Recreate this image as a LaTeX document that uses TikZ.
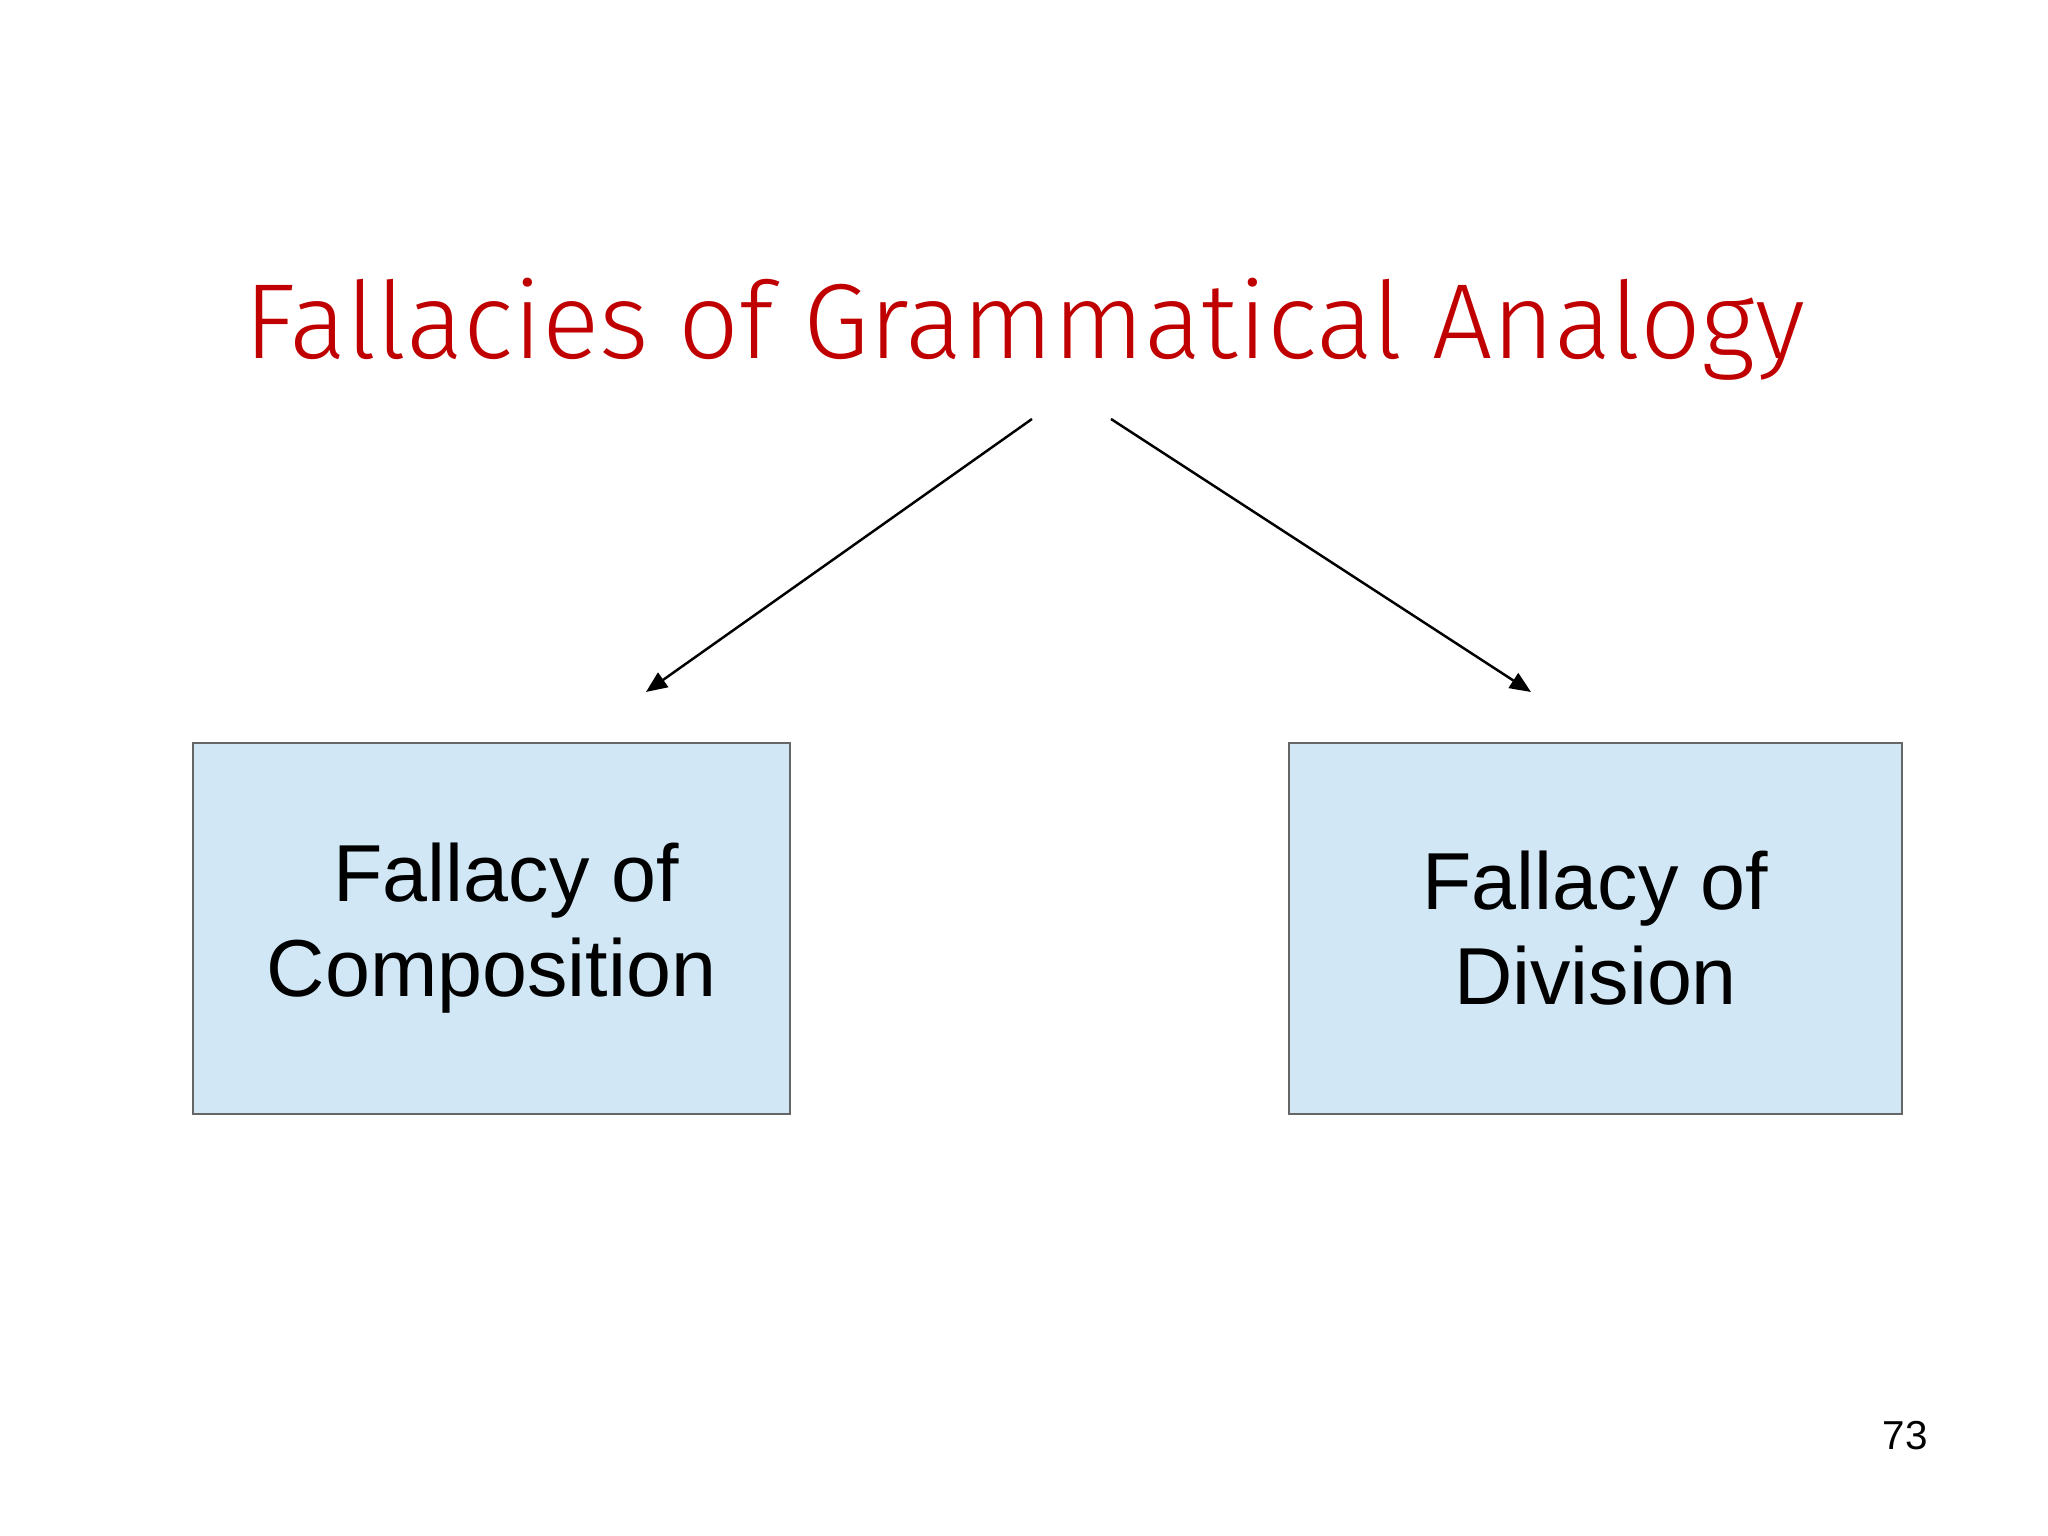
\documentclass[tikz,border=0pt]{standalone}
\usepackage{fontspec}
\usepackage{graphicx}
\setmainfont{Liberation Sans}
\newfontfamily\titlefont{Fira Sans Light}
\usetikzlibrary{arrows.meta}
\definecolor{titlered}{HTML}{C00000}
\definecolor{boxblue}{HTML}{D1E7F5}
\begin{document}
\begin{tikzpicture}[x=1cm,y=1cm,
  fbox/.style={draw=gray!80!black,line width=0.5pt,fill=boxblue,minimum width=6cm,minimum height=3.71cm,align=center,inner sep=0pt,
    font=\fontsize{23}{27}\selectfont},
  conn/.style={line width=0.7pt,-{Triangle[length=6pt,width=5pt]}}]
\useasboundingbox (0,0) rectangle (20.48,15.36);
\fill[white] (0,0) rectangle (20.48,15.36);
\node[anchor=base,text=titlered,font=\titlefont\fontsize{34}{38}\selectfont,inner sep=0pt] (title) at (10.25,11.77) {\resizebox{15.6cm}{!}{Fallacies of Grammatical Analogy}};
\node[fbox,minimum width=5.97cm] (comp) at (4.915,6.075) {\hspace*{0.3cm}Fallacy of\\Composition};
\node[fbox,minimum width=6.13cm] (div) at (15.955,6.075) {Fallacy of\\Division};
\coordinate (l1) at (10.32,11.17);
\coordinate (l2) at (6.46,8.44);
\coordinate (r1) at (11.11,11.17);
\coordinate (r2) at (15.31,8.44);
\draw[conn] (l1) -- (l2);
\draw[conn] (r1) -- (r2);
\node[anchor=base,font=\fontsize{11.5}{13}\selectfont,inner sep=0pt] (page) at (19.05,0.86) {73};
\end{tikzpicture}
\end{document}
